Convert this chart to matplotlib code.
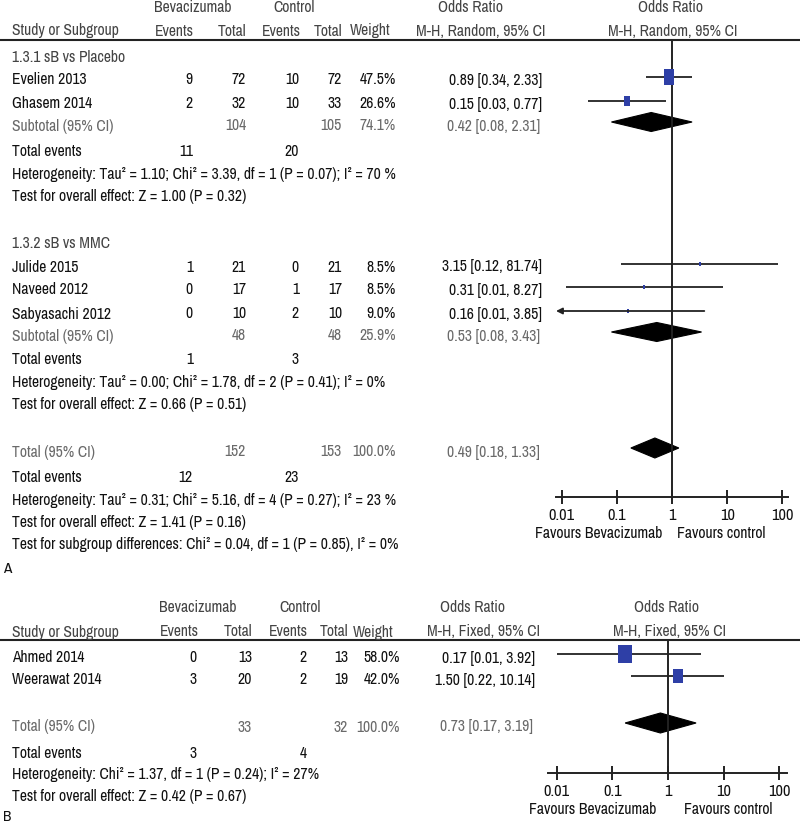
import matplotlib
matplotlib.use('Agg')
import matplotlib.pyplot as plt
from matplotlib.path import Path
from matplotlib.patches import Polygon
from matplotlib import font_manager

names = {f.name for f in font_manager.fontManager.ttflist}
fam = 'Liberation Sans'
for cand in ['Liberation Sans Narrow', 'Archivo Narrow', 'PT Sans Narrow', 'Roboto Condensed']:
    if cand in names:
        fam = cand
        break
plt.rcParams['font.family'] = [fam, 'DejaVu Sans']

# ---------------- data: panel A ----------------
a_groups = ['1.3.1 sB vs Placebo', '1.3.2 sB vs MMC']
a_studies = [['Evelien 2013', 'Ghasem 2014'], ['Julide 2015', 'Naveed 2012', 'Sabyasachi 2012']]
a_ev_b = [[9, 2], [1, 0, 0]]
a_tot_b = [[72, 32], [21, 17, 10]]
a_ev_c = [[10, 10], [0, 1, 2]]
a_tot_c = [[72, 33], [21, 17, 10]]
a_weight = [[47.5, 26.6], [8.5, 8.5, 9.0]]
a_or = [[0.89, 0.15], [3.15, 0.31, 0.16]]
a_lo = [[0.34, 0.03], [0.12, 0.012, 0.006]]
a_hi = [[2.33, 0.77], [81.74, 8.27, 3.85]]
a_sub_tot_b = [104, 48]
a_sub_tot_c = [105, 48]
a_sub_w = [74.1, 25.9]
a_sub_or = [0.42, 0.53]
a_sub_lo = [0.08, 0.08]
a_sub_hi = [2.31, 3.43]
a_sub_ev_b = [11, 1]
a_sub_ev_c = [20, 3]
a_sub_het = ['Heterogeneity: Tau² = 1.10; Chi² = 3.39, df = 1 (P = 0.07); I² = 70 %',
             'Heterogeneity: Tau² = 0.00; Chi² = 1.78, df = 2 (P = 0.41); I² = 0%']
a_sub_test = ['Test for overall effect: Z = 1.00 (P = 0.32)',
              'Test for overall effect: Z = 0.66 (P = 0.51)']
a_tot_vals = dict(tb=152, tc=153, w=100.0, orv=0.49, lo=0.18, hi=1.33, eb=12, ec=23)
a_tot_lines = ['Heterogeneity: Tau² = 0.31; Chi² = 5.16, df = 4 (P = 0.27); I² = 23 %',
               'Test for overall effect: Z = 1.41 (P = 0.16)',
               'Test for subgroup differences: Chi² = 0.04, df = 1 (P = 0.85), I² = 0%']

# ---------------- data: panel B ----------------
b_studies = ['Ahmed 2014', 'Weerawat 2014']
b_ev_b = [0, 3]
b_tot_b = [13, 20]
b_ev_c = [2, 2]
b_tot_c = [13, 19]
b_weight = [58.0, 42.0]
b_or = [0.17, 1.50]
b_lo = [0.01, 0.22]
b_hi = [3.92, 10.14]
b_tot_vals = dict(tb=33, tc=32, w=100.0, orv=0.73, lo=0.17, hi=3.19, eb=3, ec=4)
b_tot_lines = ['Heterogeneity: Chi² = 1.37, df = 1 (P = 0.24); I² = 27%',
               'Test for overall effect: Z = 0.42 (P = 0.67)']

tick_vals = [0.01, 0.1, 1, 10, 100]
tick_labels = ['0.01', '0.1', '1', '10', '100']

# ---------------- figure ----------------
W, H = 800, 826
fig = plt.figure(figsize=(8, 8.26), dpi=100)
bg = fig.add_axes([0, 0, 1, 1])
bg.set_xlim(0, W)
bg.set_ylim(H, 0)
bg.axis('off')

# choose font size so the long heterogeneity line spans ~383 px as in the reference
_probe = bg.text(0, 0, a_sub_het[0], fontsize=10)
_w = _probe.get_window_extent(renderer=fig.canvas.get_renderer()).width
_probe.remove()
FS = min(11.5, 10 * 383.0 / _w)

BLK = '#111111'
GRY = '#6a6a6a'
HDR = '#444444'
LINE = '#222222'
BLUE = '#2E3FA6'


def t(x, y, s, ha='left', color=BLK, fs=None):
    bg.text(x, y, s, ha=ha, va='center', color=color, fontsize=fs or FS)


def fmt_or(o, l, h):
    return f'{o:.2f} [{l:.2f}, {h:.2f}]'


rect = Path([(-0.72, -1), (0.72, -1), (0.72, 1), (-0.72, 1), (-0.72, -1)],
            [Path.MOVETO, Path.LINETO, Path.LINETO, Path.LINETO, Path.CLOSEPOLY])


def forest_axes(x0, x1, y0, y1, xc, dec):
    ax = fig.add_axes([x0 / W, 1 - y1 / H, (x1 - x0) / W, (y1 - y0) / H])
    ax.set_xscale('log')
    ax.set_xlim(10 ** ((x0 - xc) / dec), 10 ** ((x1 - xc) / dec))
    ax.set_ylim(y1, y0)
    ax.patch.set_alpha(0)
    for s in ['top', 'left', 'right']:
        ax.spines[s].set_visible(False)
    ax.spines['bottom'].set_color(LINE)
    ax.spines['bottom'].set_linewidth(1.4)
    ax.set_xticks(tick_vals)
    ax.set_xticklabels(tick_labels)
    ax.xaxis.set_minor_locator(matplotlib.ticker.NullLocator())
    ax.tick_params(axis='x', direction='inout', length=10, width=1.4, color=LINE,
                   labelsize=FS * 1.05, pad=3, labelcolor=BLK)
    ax.set_yticks([])
    ax.axvline(1, color=LINE, lw=1.4)
    return ax


def study(ax, y, o, l, h, w):
    xmin = ax.get_xlim()[0]
    if l < xmin:
        ax.annotate('', xy=(xmin, y), xytext=(h, y),
                    arrowprops=dict(arrowstyle='-|>', color=LINE, lw=1.3,
                                    mutation_scale=9, shrinkA=0, shrinkB=0),
                    annotation_clip=False)
    else:
        ax.plot([l, h], [y, y], color=LINE, lw=1.3, solid_capstyle='butt')
    hpx = 1.5 + 0.29 * w
    ax.plot([o], [y], marker=rect, markersize=hpx * 0.72, color=BLUE, mec=BLUE, mew=0)


def diamond(ax, y, o, l, h, hh=9.5):
    ax.add_patch(Polygon([(l, y), (o, y - hh), (h, y), (o, y + hh)], closed=True,
                         fc='black', ec='black', lw=0.8))


# ================= Panel A =================
t(193, 8, 'Bevacizumab', 'center', HDR)
t(294, 8, 'Control', 'center', HDR)
t(471, 8, 'Odds Ratio', 'center', HDR)
t(671, 8, 'Odds Ratio', 'center', HDR)
t(12, 31, 'Study or Subgroup', 'left', HDR)
t(194, 31, 'Events', 'right', HDR)
t(246, 31, 'Total', 'right', HDR)
t(301, 31, 'Events', 'right', HDR)
t(342, 31, 'Total', 'right', HDR)
t(390, 31, 'Weight', 'right', HDR)
t(481, 31, 'M-H, Random, 95% CI', 'center', HDR)
t(673, 31, 'M-H, Random, 95% CI', 'center', HDR)
bg.plot([0, W], [40, 40], color=LINE, lw=1.5)

axA = forest_axes(556, 788, 40, 497, 672, 55.2)

grp_y = [57, 243]
row_y = [[80, 104], [267, 290, 314]]
sub_y = [126, 336]
ev_y = [151, 360]
het_y = [174, 383]
test_y = [197, 405]

for g in range(2):
    t(12, grp_y[g], a_groups[g], 'left', HDR)
    for i, name in enumerate(a_studies[g]):
        y = row_y[g][i]
        t(12, y, name)
        t(193, y, str(a_ev_b[g][i]), 'right')
        t(246, y, str(a_tot_b[g][i]), 'right')
        t(299, y, str(a_ev_c[g][i]), 'right')
        t(342, y, str(a_tot_c[g][i]), 'right')
        t(396, y, f'{a_weight[g][i]:.1f}%', 'right')
        t(542, y, fmt_or(a_or[g][i], a_lo[g][i], a_hi[g][i]), 'right')
        study(axA, y - 3, a_or[g][i], a_lo[g][i], a_hi[g][i], a_weight[g][i])
    y = sub_y[g]
    t(12, y, 'Subtotal (95% CI)', 'left', GRY)
    t(246, y, str(a_sub_tot_b[g]), 'right', GRY)
    t(342, y, str(a_sub_tot_c[g]), 'right', GRY)
    t(396, y, f'{a_sub_w[g]:.1f}%', 'right', GRY)
    t(540, y, fmt_or(a_sub_or[g], a_sub_lo[g], a_sub_hi[g]), 'right', GRY)
    diamond(axA, y - 4, a_sub_or[g], a_sub_lo[g], a_sub_hi[g])
    t(12, ev_y[g], 'Total events')
    t(193, ev_y[g], str(a_sub_ev_b[g]), 'right')
    t(299, ev_y[g], str(a_sub_ev_c[g]), 'right')
    t(12, het_y[g], a_sub_het[g])
    t(12, test_y[g], a_sub_test[g])

yT = 452
t(12, yT, 'Total (95% CI)', 'left', GRY)
t(246, yT, str(a_tot_vals['tb']), 'right', GRY)
t(342, yT, str(a_tot_vals['tc']), 'right', GRY)
t(396, yT, f"{a_tot_vals['w']:.1f}%", 'right', GRY)
t(540, yT, fmt_or(a_tot_vals['orv'], a_tot_vals['lo'], a_tot_vals['hi']), 'right', GRY)
diamond(axA, yT - 4, a_tot_vals['orv'], a_tot_vals['lo'], a_tot_vals['hi'], 10)
t(12, 478, 'Total events')
t(193, 478, str(a_tot_vals['eb']), 'right')
t(299, 478, str(a_tot_vals['ec']), 'right')
for k, yy in enumerate([500, 522, 544]):
    t(12, yy, a_tot_lines[k])
t(599, 533, 'Favours Bevacizumab', 'center')
t(721, 533, 'Favours control', 'center')
t(3, 569, 'A', 'left', BLK, 11)

# ================= Panel B =================
t(198, 608, 'Bevacizumab', 'center', HDR)
t(300, 608, 'Control', 'center', HDR)
t(472, 608, 'Odds Ratio', 'center', HDR)
t(667, 608, 'Odds Ratio', 'center', HDR)
t(12, 632, 'Study or Subgroup', 'left', HDR)
t(199, 632, 'Events', 'right', HDR)
t(252, 632, 'Total', 'right', HDR)
t(308, 632, 'Events', 'right', HDR)
t(348, 632, 'Total', 'right', HDR)
t(353, 632, 'Weight', 'left', HDR)
t(484, 632, 'M-H, Fixed, 95% CI', 'center', HDR)
t(670, 632, 'M-H, Fixed, 95% CI', 'center', HDR)
bg.plot([0, W], [640, 640], color=LINE, lw=1.5)

axB = forest_axes(548, 787, 640, 773, 668, 55.7)
b_row_y = [658, 680]
for i, name in enumerate(b_studies):
    y = b_row_y[i]
    t(12, y, name)
    t(197, y, str(b_ev_b[i]), 'right')
    t(252, y, str(b_tot_b[i]), 'right')
    t(307, y, str(b_ev_c[i]), 'right')
    t(348, y, str(b_tot_c[i]), 'right')
    t(400, y, f'{b_weight[i]:.1f}%', 'right')
    t(535, y, fmt_or(b_or[i], b_lo[i], b_hi[i]), 'right')
    study(axB, y - 4, b_or[i], b_lo[i], b_hi[i], b_weight[i])
yT = 727
t(12, yT, 'Total (95% CI)', 'left', GRY)
t(252, yT, str(b_tot_vals['tb']), 'right', GRY)
t(348, yT, str(b_tot_vals['tc']), 'right', GRY)
t(400, yT, f"{b_tot_vals['w']:.1f}%", 'right', GRY)
t(533, yT, fmt_or(b_tot_vals['orv'], b_tot_vals['lo'], b_tot_vals['hi']), 'right', GRY)
diamond(axB, yT - 4, b_tot_vals['orv'], b_tot_vals['lo'], b_tot_vals['hi'], 10)
t(12, 753, 'Total events')
t(197, 753, str(b_tot_vals['eb']), 'right')
t(307, 753, str(b_tot_vals['ec']), 'right')
t(12, 775, b_tot_lines[0])
t(12, 797, b_tot_lines[1])
t(593, 810, 'Favours Bevacizumab', 'center')
t(728, 810, 'Favours control', 'center')
t(3, 817, 'B', 'left', BLK, 11)

fig.savefig('out.png', dpi=100, facecolor='white')
